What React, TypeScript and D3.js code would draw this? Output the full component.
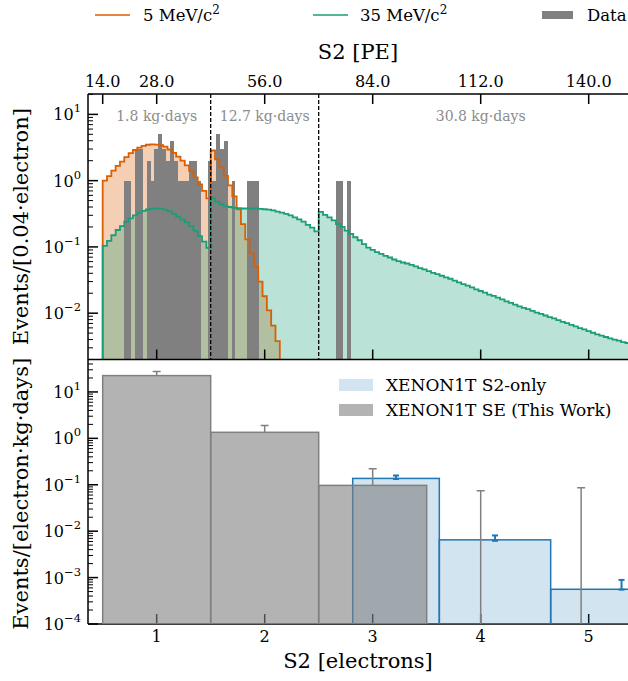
import React from 'react';
import * as d3 from 'd3';

// ---------------- data ----------------
const BIN_W = 0.04; // electrons per model bin
const MODEL_START = 0.5; // electrons
const PE_PER_ELECTRON = 28;
const DATA_OFFSET_PE = 0.4;

// 5 MeV/c^2 model, Events/[0.04 electron], bins from 0.5 e
const mass5 = [
  1.0, 1.17, 1.42, 1.67, 1.94, 2.26, 2.6, 2.9, 3.15, 3.35, 3.48, 3.52, 3.5,
  3.42, 3.25, 2.95, 2.62, 2.3, 2.0, 1.7, 1.4, 1.12, 0.88, 0.7, 0.54,
  2.85, 2.1, 1.6, 1.18, 0.85, 0.58, 0.37, 0.22, 0.13, 0.08, 0.05, 0.03, 0.018,
  0.011, 0.0065, 0.0038,
];

// 35 MeV/c^2 model
const mass35 = [
  0.104, 0.123, 0.15, 0.18, 0.206, 0.24, 0.27, 0.3, 0.33, 0.35, 0.367, 0.375,
  0.38, 0.378, 0.365, 0.345, 0.315, 0.285, 0.26, 0.235, 0.205, 0.175, 0.145,
  0.12, 0.097,
  0.54, 0.48, 0.44, 0.41, 0.4, 0.39, 0.385, 0.38, 0.38, 0.38, 0.38, 0.375,
  0.37, 0.365, 0.355, 0.34, 0.33, 0.315, 0.3, 0.28, 0.26, 0.24, 0.215, 0.195,
  0.172,
  0.339, 0.305, 0.279, 0.251, 0.221, 0.2, 0.176, 0.157, 0.14, 0.126, 0.11,
  0.0977, 0.0902, 0.0832, 0.0785, 0.0733, 0.0692, 0.0646, 0.061, 0.0582,
  0.0562, 0.0537, 0.0507, 0.0479, 0.0457, 0.0432, 0.0407, 0.0389, 0.0367,
  0.0347, 0.0331, 0.0309, 0.0292, 0.0275, 0.026, 0.0245, 0.0229, 0.0216,
  0.0204, 0.0191, 0.0182, 0.0172, 0.0162, 0.0151, 0.0143, 0.0135, 0.0127,
  0.012, 0.0115, 0.0108, 0.0102, 0.00977, 0.00923, 0.00871, 0.00832, 0.00785,
  0.00741, 0.00708, 0.00668, 0.00631, 0.00596, 0.00569, 0.00537, 0.00507,
  0.00479, 0.00457, 0.00437, 0.00417, 0.00398, 0.00385, 0.00367, 0.00355,
];

// observed data: 1 PE wide bins (integer PE start), counts
const dataBinPE = [19, 20, 22, 23, 25, 26, 27, 28, 29, 30, 31, 32, 33, 34, 35, 36, 37, 38, 41, 42, 43, 44, 45, 47, 51, 52, 53, 74, 75, 77];
const dataCounts = [1, 1, 3, 3, 2, 1, 3, 5, 3, 2, 4, 2, 1, 1, 1, 2, 2, 1, 2, 1, 5, 3, 4, 1, 1, 1, 1, 1, 1, 1];

const regionEdges = [0.5, 1.5, 2.5, 5.5];
const regionLabels = ['1.8 kg·days', '12.7 kg·days', '30.8 kg·days'];

const topTicksPE = [14, 28, 56, 84, 112, 140];
const electronTicks = [1, 2, 3, 4, 5];

// bottom panel
const seEdges = [0.5, 1.5, 2.5, 3.5];
const seValues = [22.5, 1.35, 0.097];
const seErrX = [1, 2, 3, 4, 4.93];
const seErrLow = [22.5, 1.35, 0.097, 0, 0];
const seErrHigh = [27.5, 1.9, 0.22, 0.074, 0.086];

const s2Edges = [2.815, 3.617, 4.648, 5.96];
const s2Values = [0.137, 0.0065, 0.00056];
const s2ErrLow = [0.133, 0.0062, 0.00055];
const s2ErrHigh = [0.159, 0.0081, 0.00089];

// ---------------- styles ----------------
const ORANGE = '#d95f02';
const GREEN = '#1b9e77';
const GRAY = '#808080';
const BLUE = '#1f77b4';
const FONT = 'DejaVu Serif';

const L = 88;
const R = 632;
const TOP_T = 94;
const TOP_B = 359.5;
const BOT_T = 359.5;
const BOT_B = 624;

const sup = (e: number) => (e < 0 ? '\u2212' + Math.abs(e) : String(e));

function minorTicks(lo: number, hi: number) {
  const out: number[] = [];
  for (let d = Math.floor(Math.log10(lo)); d <= Math.ceil(Math.log10(hi)); d++) {
    for (let m = 2; m <= 9; m++) {
      const v = m * Math.pow(10, d);
      if (v >= lo && v <= hi) out.push(v);
    }
  }
  return out;
}

function stepPath(start: number, w: number, vals: number[], x: any, y: any, floor: number, close: boolean) {
  const yb = y(floor);
  const pts: [number, number][] = [[x(start), yb]];
  vals.forEach((v, i) => {
    const yy = y(Math.max(v, floor));
    pts.push([x(start + i * w), yy]);
    pts.push([x(start + (i + 1) * w), yy]);
  });
  pts.push([x(start + vals.length * w), yb]);
  const p = d3.line()(pts) as string;
  return close ? p + 'Z' : p;
}

export default function App() {
  const x = d3.scaleLinear().domain([0.364, 5.401]).range([L, R]);
  const yT = d3.scaleLog().domain([0.002, 20.3]).range([TOP_B, TOP_T]);
  const yB = d3.scaleLog().domain([1e-4, 50]).range([BOT_B, BOT_T]);

  const topMajors = [-2, -1, 0, 1];
  const botMajors = [-4, -3, -2, -1, 0, 1];

  const p5fill = stepPath(MODEL_START, BIN_W, mass5, x, yT, 0.002, true);
  const p5line = stepPath(MODEL_START, BIN_W, mass5, x, yT, 0.002, false);
  const p35fill = stepPath(MODEL_START, BIN_W, mass35, x, yT, 0.002, true);
  const p35line = stepPath(MODEL_START, BIN_W, mass35, x, yT, 0.002, false);

  return (
    <svg width={628} height={681} style={{ position: 'absolute', left: 0, top: 0, background: '#fff' }} fontFamily={FONT}>
      <defs>
        <clipPath id="clipTop"><rect x={L} y={TOP_T} width={R - L} height={TOP_B - TOP_T} /></clipPath>
        <clipPath id="clipBot"><rect x={L} y={BOT_T} width={R - L} height={BOT_B - BOT_T} /></clipPath>
      </defs>
      <rect x={0} y={0} width={628} height={681} fill="#fff" />

      {/* top legend */}
      <g fontSize={16.5}>
        <line x1={95} x2={130} y1={15} y2={15} stroke={ORANGE} strokeWidth={1.5} />
        <text x={143} y={21}>5 MeV/c<tspan dy={-7} fontSize={12}>2</tspan></text>
        <line x1={313} x2={348} y1={15} y2={15} stroke={GREEN} strokeWidth={1.5} />
        <text x={360} y={21}>35 MeV/c<tspan dy={-7} fontSize={12}>2</tspan></text>
        <rect x={542} y={11} width={31} height={8} fill={GRAY} />
        <text x={587} y={21}>Data</text>
      </g>

      {/* top panel */}
      <g clipPath="url(#clipTop)">
        <path d={p5fill} fill={ORANGE} fillOpacity={0.3} />
        <path d={p35fill} fill={GREEN} fillOpacity={0.3} />
        <g shapeRendering="crispEdges">
          {dataBinPE.map((pe, i) => {
            const x0 = x((pe + DATA_OFFSET_PE) / PE_PER_ELECTRON);
            const x1 = x((pe + 1 + DATA_OFFSET_PE) / PE_PER_ELECTRON);
            return <rect key={i} x={x0} width={x1 - x0} y={yT(dataCounts[i])} height={TOP_B - yT(dataCounts[i])} fill={GRAY} />;
          })}
        </g>
        <path d={p5line} fill="none" stroke={ORANGE} strokeWidth={1.8} />
        <path d={p35line} fill="none" stroke={GREEN} strokeWidth={1.8} />
        {regionEdges.slice(1, 3).map((e, i) => (
          <line key={i} x1={x(e)} x2={x(e)} y1={TOP_T} y2={TOP_B} stroke="#000" strokeWidth={1.3} strokeDasharray="4,2" />
        ))}
        {regionLabels.map((t, i) => (
          <text key={i} x={x((regionEdges[i] + regionEdges[i + 1]) / 2)} y={121} textAnchor="middle" fontSize={14} fill="#8c8c8c">{t}</text>
        ))}
      </g>
      {/* axes */}
      <g stroke="#000" strokeWidth={1.5}>
        <line x1={L} x2={L} y1={TOP_T} y2={BOT_B} />
        <line x1={L} x2={R} y1={TOP_T} y2={TOP_T} />
        <line x1={L} x2={R} y1={TOP_B} y2={TOP_B} />
        <line x1={L} x2={R} y1={BOT_B} y2={BOT_B} />
        {topTicksPE.map((pe) => (
          <line key={pe} x1={x(pe / PE_PER_ELECTRON)} x2={x(pe / PE_PER_ELECTRON)} y1={TOP_T} y2={TOP_T + 10} />
        ))}
        {electronTicks.map((e) => (
          <line key={'tb' + e} x1={x(e)} x2={x(e)} y1={TOP_B} y2={TOP_B - 10} />
        ))}
        {electronTicks.map((e) => (
          <line key={'bb' + e} x1={x(e)} x2={x(e)} y1={BOT_B} y2={BOT_B - 10} />
        ))}
        {topMajors.map((e) => (
          <line key={'tm' + e} x1={L} x2={L + 10} y1={yT(Math.pow(10, e))} y2={yT(Math.pow(10, e))} />
        ))}
        {minorTicks(0.002, 20.3).map((v, i) => (
          <line key={'tn' + i} x1={L} x2={L + 5} y1={yT(v)} y2={yT(v)} strokeWidth={1} />
        ))}
        {botMajors.map((e) => (
          <line key={'bm' + e} x1={L} x2={L + 10} y1={yB(Math.pow(10, e))} y2={yB(Math.pow(10, e))} />
        ))}
        {minorTicks(1e-4, 50).map((v, i) => (
          <line key={'bn' + i} x1={L} x2={L + 5} y1={yB(v)} y2={yB(v)} strokeWidth={1} />
        ))}
      </g>
      <g fontSize={16}>
        {topTicksPE.map((pe) => (
          <text key={pe} x={x(pe / PE_PER_ELECTRON)} y={87} textAnchor="middle">{pe.toFixed(1)}</text>
        ))}
        {topMajors.map((e) => (
          <text key={e} x={81} y={yT(Math.pow(10, e)) + 6} textAnchor="end">10<tspan dy={-8} fontSize={11.5}>{sup(e)}</tspan></text>
        ))}
        {botMajors.map((e) => (
          <text key={e} x={81} y={yB(Math.pow(10, e)) + 6} textAnchor="end">10<tspan dy={-8} fontSize={11.5}>{sup(e)}</tspan></text>
        ))}
        {electronTicks.map((e) => (
          <text key={e} x={x(e)} y={642} textAnchor="middle">{e}</text>
        ))}
      </g>
      <g fontSize={21}>
        <text x={358} y={59} textAnchor="middle">S2 [PE]</text>
        <text x={358} y={668} textAnchor="middle">S2 [electrons]</text>
        <text transform={`translate(28,${(TOP_T + TOP_B) / 2}) rotate(-90)`} textAnchor="middle">Events/[0.04·electron]</text>
        <text transform={`translate(28,${(BOT_T + BOT_B) / 2 + 2}) rotate(-90)`} textAnchor="middle">Events/[electron·kg·days]</text>
      </g>

      {/* bottom panel */}
      <g clipPath="url(#clipBot)">
        {s2Values.map((v, i) => (
          <rect key={'s2' + i} x={x(s2Edges[i])} width={x(s2Edges[i + 1]) - x(s2Edges[i])} y={yB(v)} height={BOT_B - yB(v)}
            fill={BLUE} fillOpacity={0.2} stroke={BLUE} strokeWidth={1.5} />
        ))}
        {seValues.map((v, i) => (
          <rect key={'se' + i} x={x(seEdges[i])} width={x(seEdges[i + 1]) - x(seEdges[i])} y={yB(v)} height={BOT_B - yB(v)}
            fill={GRAY} fillOpacity={0.6} stroke={GRAY} strokeWidth={1.5} />
        ))}
        {seErrX.map((ex, i) => {
          const lo = seErrLow[i] > 0 ? yB(seErrLow[i]) : BOT_B;
          const hi = yB(seErrHigh[i]);
          return (
            <g key={'se' + i} stroke={GRAY} strokeWidth={1.5}>
              <line x1={x(ex)} x2={x(ex)} y1={lo} y2={hi} />
              <line x1={x(ex) - 4} x2={x(ex) + 4} y1={hi} y2={hi} />
            </g>
          );
        })}
        {s2Values.map((_, i) => {
          const cx = x((s2Edges[i] + s2Edges[i + 1]) / 2);
          const lo = yB(s2ErrLow[i]);
          const hi = yB(s2ErrHigh[i]);
          return (
            <g key={'s2e' + i} stroke={BLUE} strokeWidth={2}>
              <line x1={cx} x2={cx} y1={lo} y2={hi} />
              <line x1={cx - 3} x2={cx + 3} y1={hi} y2={hi} />
              <line x1={cx - 3} x2={cx + 3} y1={lo} y2={lo} />
            </g>
          );
        })}
      </g>
      {/* bottom legend */}
      <g fontSize={17}>
        <rect x={339} y={379} width={34} height={12} fill={BLUE} fillOpacity={0.2} />
        <text x={386} y={391}>XENON1T S2-only</text>
        <rect x={339} y={404} width={34} height={12} fill={GRAY} fillOpacity={0.6} />
        <text x={386} y={416}>XENON1T SE (This Work)</text>
      </g>
    </svg>
  );
}
